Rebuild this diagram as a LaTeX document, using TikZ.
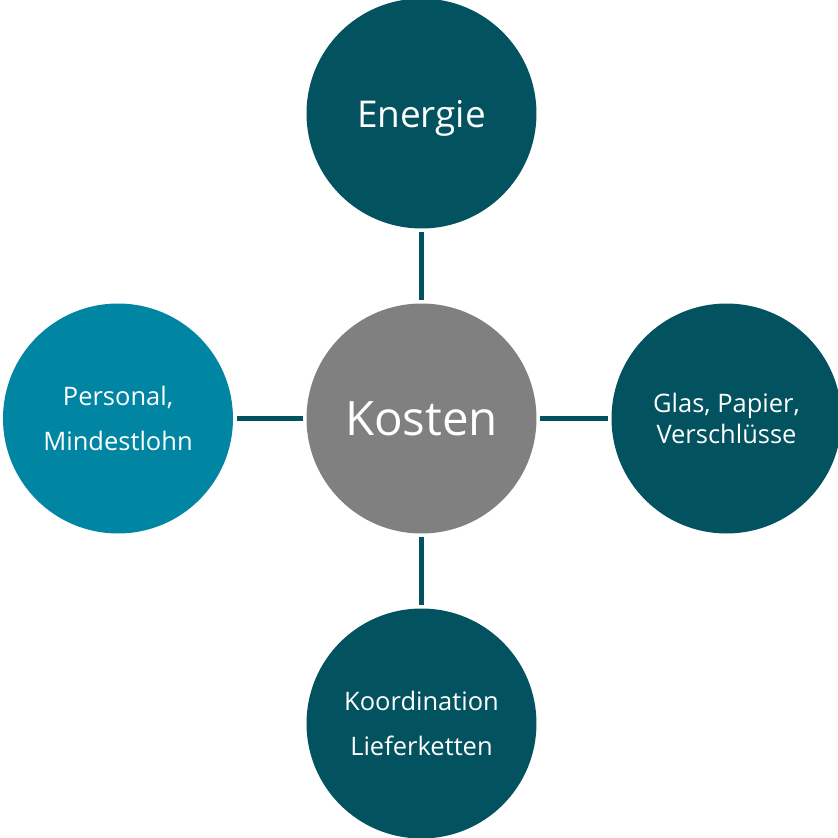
\documentclass[tikz,border=0pt]{standalone}
\usepackage{fontspec}
\setmainfont{Open Sans}
\usetikzlibrary{positioning}
\definecolor{tealdark}{HTML}{02535F}
\definecolor{tealbright}{HTML}{0086A3}
\definecolor{costgray}{HTML}{808080}

\begin{document}
\begin{tikzpicture}
    [node distance = 6.1cm, on grid,
     topic/.style = {circle, fill=tealdark, text=white, minimum size=4.6cm,
                     inner sep=0pt, align=center,
                     font=\fontsize{14.5}{25.6}\selectfont},
     link/.style = {draw=tealdark, line width=3.4pt, shorten >=2pt, shorten <=2pt}]
\useasboundingbox (-8.43,-8.39) rectangle (8.33,8.37);
\node[topic, fill=costgray, font=\fontsize{27}{30}\selectfont](kosten) at (0,0) {Kosten};
\node[topic, text depth=0pt, font=\fontsize{21}{24}\selectfont](energie)[above = of kosten]{Energie};
\node[topic, fill=tealbright](personal)[left = 6.07cm of kosten]{Personal,\\Mindestlohn};
\node[topic, font=\fontsize{14.5}{17.6}\selectfont](glas)[right = of kosten]{Glas, Papier,\\Verschlüsse};
\node[topic](liefer)[below = of kosten]{Koordination\\Lieferketten};

\path[link]
    (energie) edge (kosten)
    (personal) edge (kosten)
    (kosten) edge (glas)
    (kosten) edge (liefer);
\end{tikzpicture}
\end{document}
